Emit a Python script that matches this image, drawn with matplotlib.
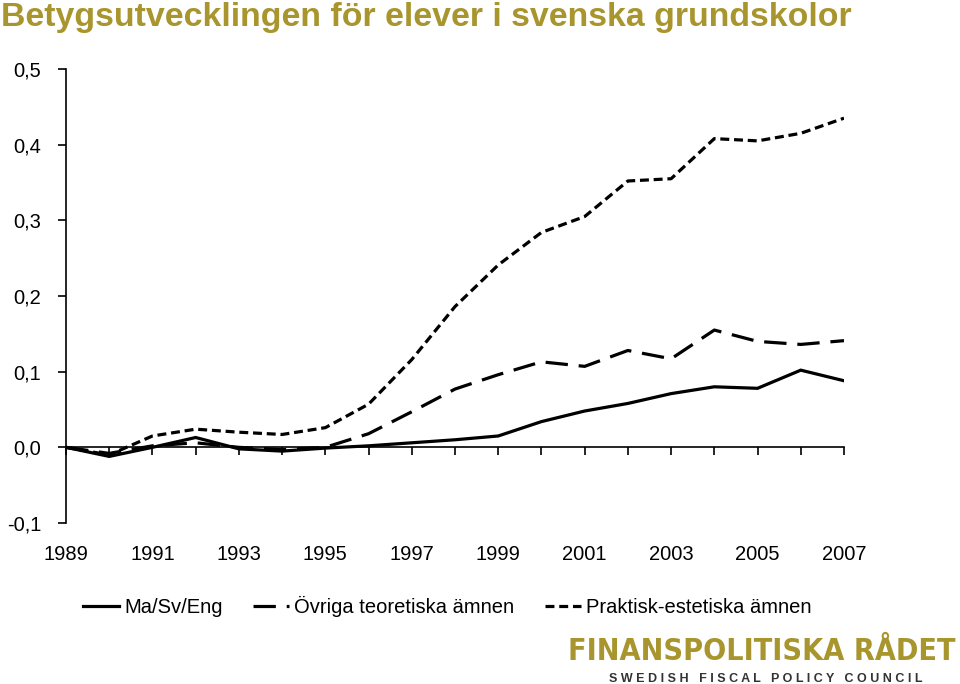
import matplotlib
matplotlib.use("Agg")
import matplotlib.pyplot as plt
from matplotlib.lines import Line2D

plt.rcParams['font.family'] = ['Liberation Sans', 'DejaVu Sans']

# data
years = list(range(1989, 2008))
ma_sv_eng = [0.0, -0.012, 0.0, 0.013, -0.002, -0.005, -0.001, 0.002, 0.006, 0.010,
             0.015, 0.034, 0.048, 0.058, 0.071, 0.080, 0.078, 0.102, 0.088]
ovriga = [0.0, -0.008, 0.002, 0.006, 0.0, -0.003, 0.0, 0.018, 0.047, 0.077,
          0.096, 0.113, 0.107, 0.128, 0.117, 0.155, 0.140, 0.136, 0.141]
praktisk = [0.0, -0.01, 0.015, 0.024, 0.020, 0.017, 0.026, 0.057, 0.116, 0.186,
            0.241, 0.284, 0.305, 0.352, 0.355, 0.408, 0.405, 0.415, 0.435]

series_labels = ['Ma/Sv/Eng', 'Övriga teoretiska ämnen', 'Praktisk-estetiska ämnen']
ytick_vals = [-0.1, 0.0, 0.1, 0.2, 0.3, 0.4, 0.5]
ytick_labels = ['-0,1', '0,0', '0,1', '0,2', '0,3', '0,4', '0,5']
xlabel_years = years[::2]

gold = '#A8952E'

fig = plt.figure(figsize=(9.6, 6.84), dpi=100)
ax = fig.add_axes([66 / 960, 1 - 523 / 684, (844 - 66) / 960, (523 - 69) / 684])

lw = 2.3
ax.plot(years, ma_sv_eng, color='black', lw=lw, solid_joinstyle='miter',
        label=series_labels[0])
ax.plot(years, ovriga, color='black', lw=lw, dashes=(7, 3.4),
        dash_capstyle='butt', label=series_labels[1])
ax.plot(years, praktisk, color='black', lw=lw, dashes=(2.8, 1.5),
        dash_capstyle='butt', label=series_labels[2])

ax.set_xlim(years[0], years[-1])
ax.set_ylim(ytick_vals[0], ytick_vals[-1])

for s in ['top', 'right']:
    ax.spines[s].set_visible(False)
ax.spines['left'].set_linewidth(1.2)
ax.spines['bottom'].set_position(('data', 0))
ax.spines['bottom'].set_linewidth(1.2)

ax.set_yticks(ytick_vals)
ax.set_yticklabels(ytick_labels)
ax.tick_params(axis='y', direction='out', length=6, width=1.2, labelsize=14.5, pad=12)

ax.set_xticks(years)
ax.tick_params(axis='x', direction='out', length=6, width=1.2, labelbottom=False)

# year labels below the plot area
sec = ax.secondary_xaxis(-0.037)
sec.set_xticks(xlabel_years)
sec.set_xticklabels([str(y) for y in xlabel_years])
sec.tick_params(length=0, labelsize=14.5)
sec.spines['bottom'].set_visible(False)

fig.text(0.001, 0.975, 'Betygsutvecklingen för elever i svenska grundskolor',
         color=gold, fontsize=24.4, fontweight='bold', ha='left', va='center')

handles = [
    Line2D([], [], color='black', lw=lw),
    Line2D([], [], color='black', lw=lw, dashes=(7, 3.4), dash_capstyle='butt'),
    Line2D([], [], color='black', lw=lw, dashes=(2.8, 1.5), dash_capstyle='butt'),
]
fig.legend(handles, series_labels, loc='center', bbox_to_anchor=(0.466, 0.114),
           ncol=3, frameon=False, fontsize=14.5, handlelength=1.8,
           handletextpad=0.25, columnspacing=1.5)

fig.text(0.995, 1 - 652 / 684, 'FINANSPOLITISKA RÅDET',
         family='DejaVu Sans', fontstretch='condensed', fontweight='bold',
         color=gold, fontsize=21.8, ha='right', va='center')
fig.text(0.961, 1 - 679 / 684, 'S W E D I S H   F I S C A L   P O L I C Y   C O U N C I L',
         color='#333333', fontsize=9, fontweight='bold', ha='right', va='center')

fig.savefig('out.png', dpi=100)
